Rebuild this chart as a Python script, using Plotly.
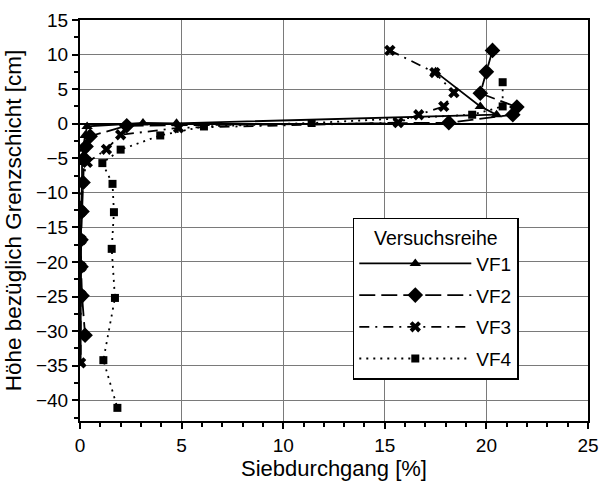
import plotly.graph_objects as go

# Siebdurchgang [%] und Höhe bezüglich Grenzschicht [cm] je Versuchsreihe
vf1_x = [17.5, 19.7, 20.5, 4.75, 3.1, 0.35, 0.25, 0.15, 0.1, 0.1, 0.05, 0.05, 0.05, 0.05, 0.03]
vf1_y = [7.5, 2.5, 1.3, 0.05, 0.1, -0.4, -1.7, -3.7, -5.6, -8.6, -12.7, -16.8, -20.7, -24.8, -34.6]

vf2_x = [20.3, 20.0, 19.7, 21.5, 21.3, 18.15, 2.3, 0.5, 0.3, 0.2, 0.15, 0.1, 0.05, 0.05, 0.1, 0.25]
vf2_y = [10.6, 7.5, 4.4, 2.4, 1.3, 0.15, -0.3, -1.8, -3.3, -5.0, -8.5, -12.7, -16.8, -20.7, -24.9, -30.6]

vf3_x = [15.25, 17.46, 18.4, 17.9, 16.67, 15.66, 4.85, 2.0, 1.3, 0.36, 0.05, 0.05, 0.05, 0.05, 0.05, 0.03]
vf3_y = [10.6, 7.4, 4.5, 2.5, 1.3, 0.15, -0.6, -1.6, -3.7, -5.6, -8.6, -12.7, -16.8, -20.7, -24.8, -34.6]

vf4_x = [20.8, 20.8, 19.3, 11.4, 6.1, 3.95, 2.0, 1.1, 1.6, 1.67, 1.56, 1.72, 1.15, 1.84]
vf4_y = [6.0, 2.5, 1.3, 0.1, -0.4, -1.7, -3.75, -5.7, -8.7, -12.8, -18.1, -25.2, -34.2, -41.1]

series_names = ["VF1", "VF2", "VF3", "VF4"]
x_ticks = [0, 5, 10, 15, 20, 25]
y_ticks = [15, 10, 5, 0, -5, -10, -15, -20, -25, -30, -35, -40]

FONT = "Liberation Sans, Arial, sans-serif"

styles = [
    dict(symbol="triangle-up", size=10, dash="solid"),
    dict(symbol="diamond", size=12, dash="16px,6px"),
    dict(symbol="x", size=10, dash="10px,6px,2px,6px"),
    dict(symbol="square", size=8, dash="2px,5px"),
]

fig = go.Figure()
for name, xs, ys, st in zip(series_names,
                            [vf1_x, vf2_x, vf3_x, vf4_x],
                            [vf1_y, vf2_y, vf3_y, vf4_y],
                            styles):
    fig.add_trace(go.Scatter(
        x=xs, y=ys, name=name, legendgroup=name, mode="lines+markers",
        line=dict(color="black", width=1.8, dash=st["dash"]),
        marker=dict(symbol=st["symbol"], size=st["size"], color="black",
                    line=dict(width=0)),
    ))

axis_common = dict(
    showline=True, linecolor="black", linewidth=2, mirror=True,
    showgrid=True, gridcolor="#7a7a7a", gridwidth=1,
    ticks="outside", ticklen=6, tickwidth=1.5, tickcolor="black",
    tickfont=dict(family=FONT, size=19, color="black"),
    automargin=False,
)

fig.update_xaxes(
    range=[0, 25], tickvals=x_ticks, zeroline=False,
    minor=dict(dtick=1, ticks="outside", ticklen=4, tickcolor="black", showgrid=False),
    title=dict(text="Siebdurchgang [%]", font=dict(family=FONT, size=22, color="black"),
               standoff=2),
    **axis_common,
)
fig.update_yaxes(
    range=[-43, 15], tickvals=y_ticks,
    zeroline=True, zerolinecolor="black", zerolinewidth=2,
    minor=dict(dtick=2.5, tick0=0, ticks="outside", ticklen=4, tickcolor="black", showgrid=False),
    title=dict(text="Höhe bezüglich Grenzschicht [cm]",
               font=dict(family=FONT, size=22.5, color="black"), standoff=8),
    **axis_common,
)

fig.update_layout(
    template="none",
    width=600, height=491,
    margin=dict(l=80, r=12, t=20, b=70),
    paper_bgcolor="white", plot_bgcolor="white",
    font=dict(family=FONT, color="black"),
    showlegend=True,
    legend=dict(
        title=dict(text="Versuchsreihe", side="top center",
                   font=dict(family=FONT, size=19.5, color="black")),
        x=0.537, y=0.507, xanchor="left", yanchor="top",
        bgcolor="white", bordercolor="black", borderwidth=1.5,
        font=dict(family=FONT, size=19, color="black"),
        itemwidth=112, tracegroupgap=4,
    ),
)

fig.write_html("out.html")
